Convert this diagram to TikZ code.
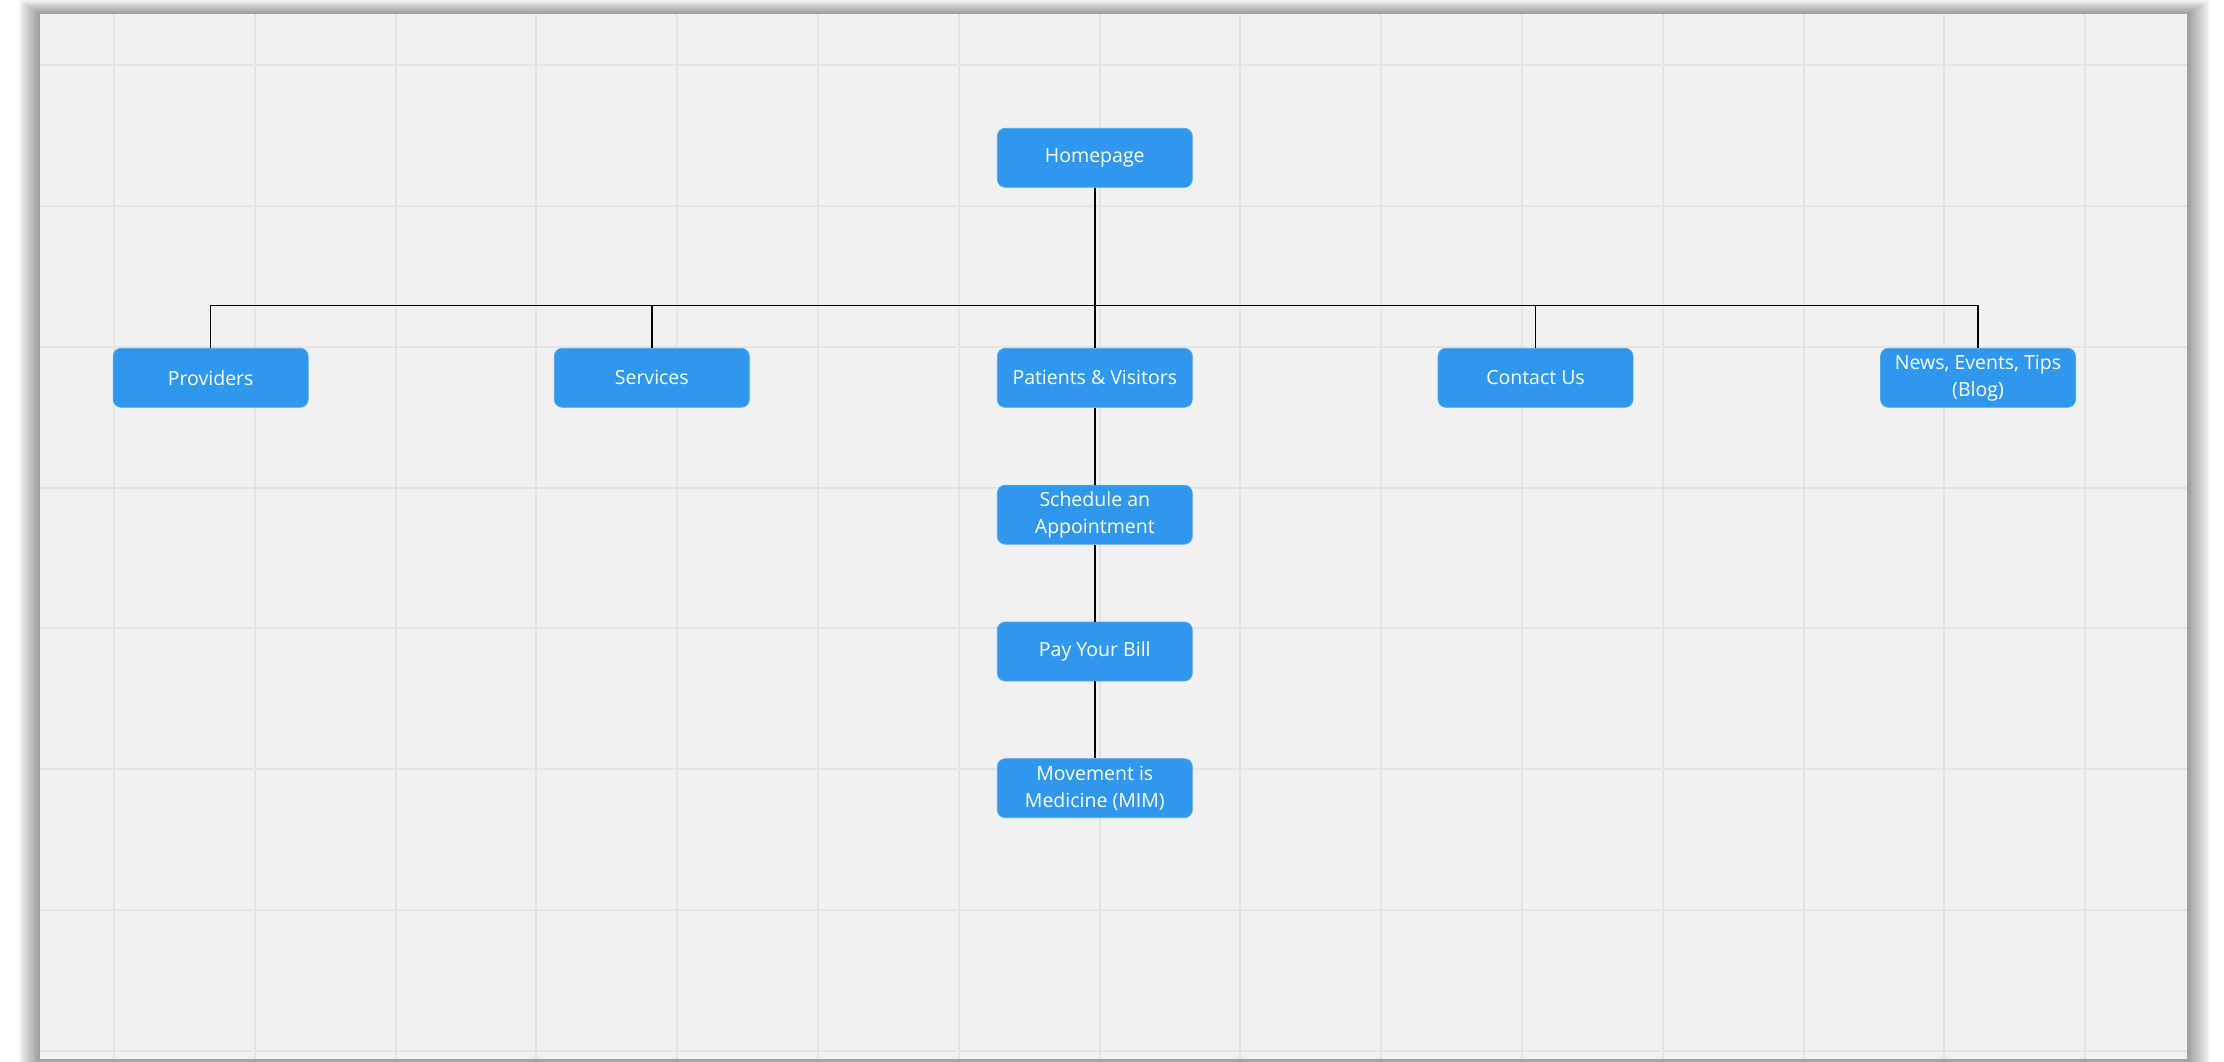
\documentclass[tikz,border=0pt]{standalone}
\usepackage{fontspec}
\setmainfont{Open Sans}
\definecolor{nodeblue}{RGB}{47,152,236}
\definecolor{panelbg}{RGB}{241,241,241}
\definecolor{gridc}{RGB}{228,228,228}
\tikzset{
  pagebox/.style={rounded corners=8pt, fill=nodeblue, draw=nodeblue!85!white, line width=0.8pt,
    text=white, minimum width=195pt, minimum height=59pt, align=center, inner sep=0pt,
    font=\fontsize{19.5}{27}\selectfont},
  conn/.style={draw=black, line width=1.5pt},
  gridline/.style={draw=gridc, line width=2pt}
}
\begin{document}
\begin{tikzpicture}[x=1pt,y=-1pt]
\useasboundingbox[fill=white] (0,0) rectangle (2224,1062);
% shadow
\foreach \i in {1,...,18}{
  \fill[black,opacity=0.022] (40-1.2*\i,14-0.8*\i) rectangle (2187+1.3*\i,1059+1.2*\i);
}
% panel
\fill[panelbg] (40,14) rectangle (2187,1059);
% grid
\foreach \k in {0,...,14}{
  \draw[gridline] (114+140.8*\k,14) -- (114+140.8*\k,1059);
}
\foreach \k in {0,...,7}{
  \draw[gridline] (40,65+140.85*\k) -- (2187,65+140.85*\k);
}
% nodes
\node[pagebox] (home) at (1094.8,157.8) {Homepage};
\node[pagebox] (prov) at (210.7,377.8) {Providers};
\node[pagebox] (serv) at (651.8,377.8) {Services};
\node[pagebox] (pat)  at (1094.8,377.8) {Patients \& Visitors};
\node[pagebox] (cont) at (1535.5,377.8) {Contact Us};
\node[pagebox] (news) at (1978,377.8) {News, Events, Tips\\(Blog)};
\node[pagebox] (sched) at (1094.8,514.7) {Schedule an\\Appointment};
\node[pagebox] (bill) at (1094.8,651.5) {Pay Your Bill};
\node[pagebox] (move) at (1094.8,788.2) {Movement is\\Medicine (MIM)};
% connectors
\coordinate (bar) at (1094.8,305.7);
\foreach \c in {prov,serv,pat,cont,news}{
  \draw[conn] (home.south) -- (bar) -| (\c.north);
}
\draw[conn] (pat.south) -- (sched.north);
\draw[conn] (sched.south) -- (bill.north);
\draw[conn] (bill.south) -- (move.north);
\end{tikzpicture}
\end{document}
